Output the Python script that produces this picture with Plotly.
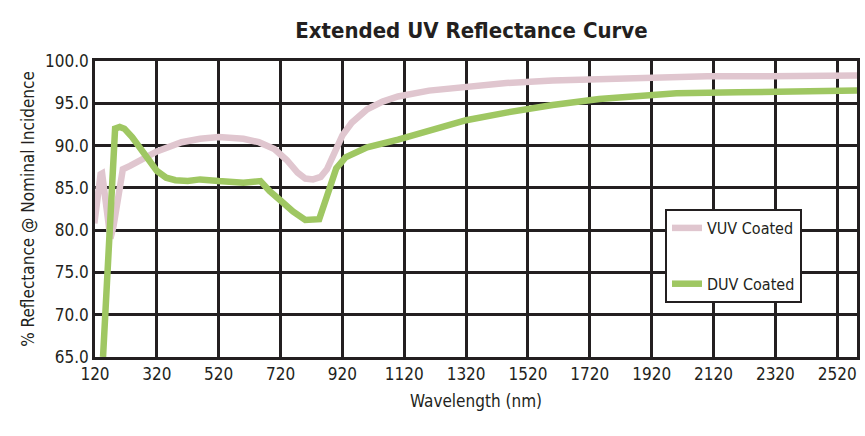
import plotly.graph_objects as go

# ---- data ----
vuv_wl = [118, 128, 138, 143, 150, 160, 170, 180, 195, 210, 233, 265, 320, 400, 460, 520, 600,
          650, 700, 740, 775, 800, 825, 850, 870, 895, 920, 950, 1000, 1050, 1100, 1200,
          1320, 1450, 1600, 1750, 1900, 2100, 2300, 2584]
vuv_val = [80.8, 84.5, 86.6, 86.7, 84.5, 80.5, 79.0, 80.5, 84.5, 87.2, 87.6, 88.2, 89.3, 90.4,
           90.8, 91.0, 90.8, 90.4, 89.6, 88.3, 86.8, 86.1, 86.0, 86.3, 87.2, 89.2, 91.2,
           92.7, 94.3, 95.2, 95.8, 96.5, 97.0, 97.4, 97.7, 97.9, 98.0, 98.2, 98.2, 98.3]

duv_wl = [146, 160, 175, 185, 200, 215, 240, 265, 290, 320, 350, 380, 420, 460, 520, 600,
          655, 685, 720, 760, 800, 845, 870, 900, 930, 960, 1000, 1100, 1200, 1320, 1450,
          1600, 1750, 1900, 2000, 2200, 2400, 2584]
duv_val = [65.0, 75.0, 86.5, 92.0, 92.2, 92.0, 91.0, 89.8, 88.3, 87.0, 86.2, 85.9, 85.8, 86.0,
           85.8, 85.6, 85.8, 84.6, 83.5, 82.2, 81.2, 81.3, 84.0, 87.3, 88.6, 89.2, 89.8,
           90.7, 91.8, 93.0, 93.9, 94.8, 95.5, 96.0, 96.2, 96.3, 96.4, 96.5]

x_ticks = [120, 320, 520, 720, 920, 1120, 1320, 1520, 1720, 1920, 2120, 2320, 2520]
y_ticks = [65, 70, 75, 80, 85, 90, 95, 100]

series_names = ["VUV Coated", "DUV Coated"]
series_colors = ["#e0c6cf", "#9fc762"]

FONT = "DejaVu Sans Condensed, DejaVu Sans, sans-serif"
INK = "#231f20"

fig = go.Figure()
fig.add_trace(go.Scatter(x=vuv_wl, y=vuv_val, mode="lines", name=series_names[0],
                         line=dict(color=series_colors[0], width=6.5), legendgroup="a"))
fig.add_trace(go.Scatter(x=duv_wl, y=duv_val, mode="lines", name=series_names[1],
                         line=dict(color=series_colors[1], width=6.5), legendgroup="b"))

fig.update_layout(
    width=865, height=436,
    margin=dict(l=95, r=5, t=61, b=79),
    paper_bgcolor="white", plot_bgcolor="white",
    font=dict(family=FONT, color=INK, size=15),
    title=dict(text="<b>Extended UV Reflectance Curve</b>", x=0.545, xanchor="center",
               y=0.93, yanchor="middle", font=dict(family=FONT, size=22, color=INK)),
    legend=dict(x=0.748, y=0.50, xanchor="left", yanchor="top",
                bgcolor="white", bordercolor=INK, borderwidth=2,
                font=dict(family=FONT, size=16, color=INK),
                tracegroupgap=32, itemwidth=30),
)
fig.update_xaxes(range=[120, 2584], tickvals=x_ticks, ticktext=[str(v) for v in x_ticks],
                 showgrid=True, gridcolor=INK, gridwidth=2.5,
                 showline=True, linecolor=INK, linewidth=2.5, mirror=True,
                 ticks="", zeroline=False, tickfont=dict(size=17),
                 title=dict(text="Wavelength (nm)", font=dict(size=17), standoff=12))
fig.update_yaxes(range=[65, 100], tickvals=y_ticks, tickformat=".1f",
                 showgrid=True, gridcolor=INK, gridwidth=2.5,
                 showline=True, linecolor=INK, linewidth=2.5, mirror=True,
                 ticks="", zeroline=False, tickfont=dict(size=17),
                 title=dict(text="% Reflectance @ Nominal Incidence", font=dict(size=17),
                            standoff=7))

fig.write_html("out.html", config={"displayModeBar": False},
               post_script="document.body.style.margin='0';")
